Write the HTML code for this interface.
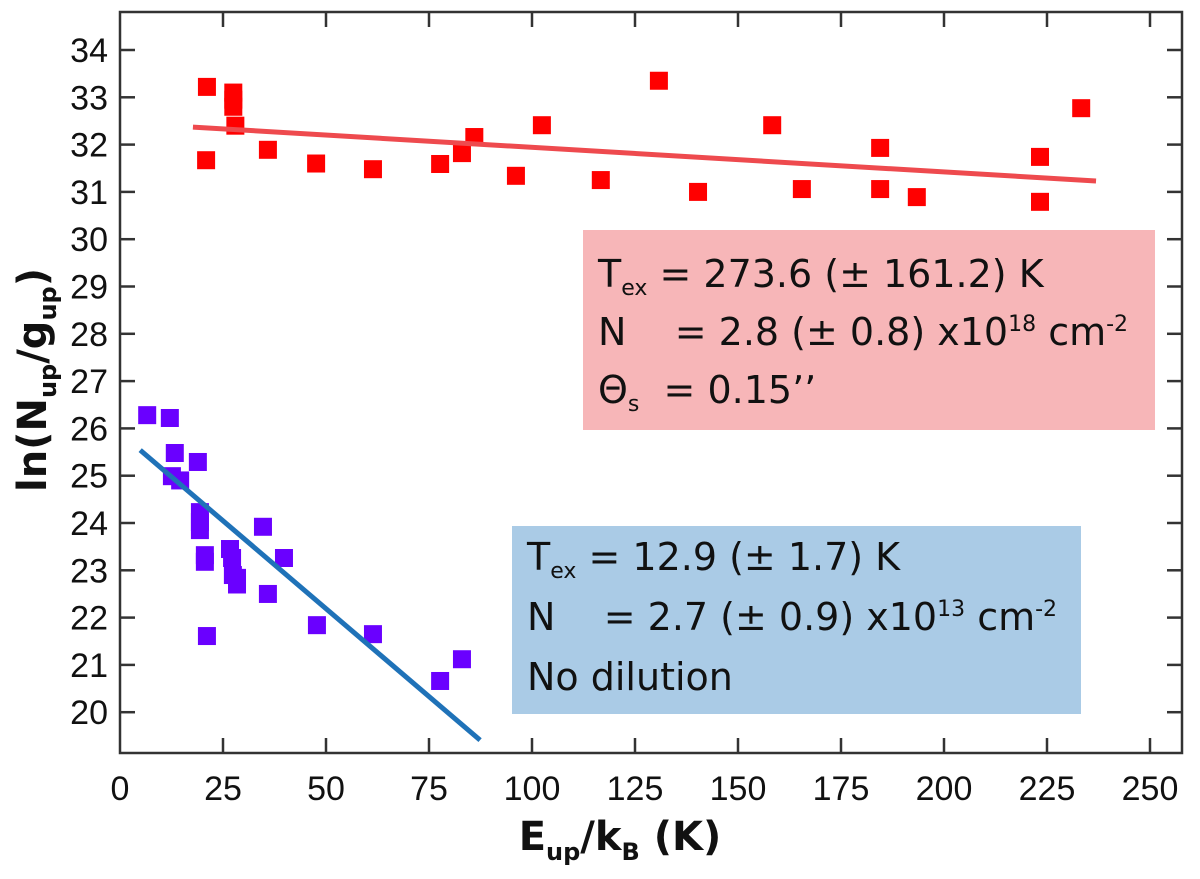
<!DOCTYPE html>
<html><head><meta charset="utf-8"><style>
body{margin:0;background:#fff;}
svg{display:block;font-family:"DejaVu Sans","Liberation Sans",sans-serif;}
</style></head><body>
<svg id="chart" width="1200" height="879" viewBox="0 0 1200 879" xmlns="http://www.w3.org/2000/svg">
<rect x="120" y="12" width="1062" height="741" fill="#fff"/>
<rect x="583" y="230" width="572" height="200" fill="#f7b6b8"/>
<rect x="512" y="526" width="569" height="188" fill="#aacbe6"/>
<g id="marks"></g>
<g id="axes"></g>
<g font-size="38" fill="#111">
<text x="598" y="287">T<tspan font-size="22" dy="8">ex</tspan><tspan dy="-8"> = 273.6 (± 161.2) K</tspan></text>
<text x="598" y="345">N&#160;&#160;&#160; = 2.8 (± 0.8) x10<tspan font-size="22" dy="-14">18</tspan><tspan dy="14"> cm</tspan><tspan font-size="22" dy="-14">-2</tspan></text>
<text x="598" y="403">Θ<tspan font-size="22" dy="8">s</tspan><tspan dy="-8">&#160; = 0.15’’</tspan></text>
</g>
<g font-size="38" fill="#111">
<text x="527" y="570">T<tspan font-size="22" dy="8">ex</tspan><tspan dy="-8"> = 12.9 (± 1.7) K</tspan></text>
<text x="527" y="630">N&#160;&#160;&#160; = 2.7 (± 0.9) x10<tspan font-size="22" dy="-14">13</tspan><tspan dy="14"> cm</tspan><tspan font-size="22" dy="-14">-2</tspan></text>
<text x="527" y="690">No dilution</text>
</g>
<text x="620" y="850" text-anchor="middle" font-size="40" font-weight="bold" fill="#111">E<tspan font-size="24" dy="10">up</tspan><tspan dy="-10">/k</tspan><tspan font-size="24" dy="10">B</tspan><tspan dy="-10"> (K)</tspan></text>
<text transform="translate(46,380) rotate(-90)" text-anchor="middle" font-size="40" font-weight="bold" fill="#111">ln(N<tspan font-size="24" dy="10">up</tspan><tspan dy="-10">/g</tspan><tspan font-size="24" dy="10">up</tspan><tspan dy="-10">)</tspan></text>
</svg>
<script>
const xTicks=[0,25,50,75,100,125,150,175,200,225,250];
const yTicks=[20,21,22,23,24,25,26,27,28,29,30,31,32,33,34];
const redX=[21.1,20.9,27.5,27.5,27.5,28,35.9,47.6,61.4,77.7,83,86,96.1,102.4,116.7,130.8,140.3,158.3,165.5,184.5,184.5,193.4,223.3,223.3,233.3];
const redY=[33.22,31.67,32.95,33.1,32.8,32.4,31.89,31.6,31.48,31.59,31.82,32.16,31.34,32.41,31.25,33.35,31.0,32.41,31.06,31.93,31.06,30.89,31.74,30.79,32.77];
const purpleX=[6.6,12.1,13.3,12.6,14.6,18.9,19.4,19.4,19.4,20.6,20.6,21.1,26.7,27.2,27.4,28.4,28.4,34.7,35.9,39.8,47.8,61.4,77.7,83];
const purpleY=[26.28,26.22,25.48,24.99,24.9,25.29,24.23,24.02,23.85,23.32,23.18,21.61,23.45,23.26,22.9,22.84,22.7,23.92,22.5,23.26,21.84,21.65,20.66,21.12];
const redFitX=[17.7,236.9], redFitY=[32.37,31.23];
const blueFitX=[4.9,87.4], blueFitY=[25.54,19.41];
const X=v=>120+4.12*v, Y=v=>50+(34-v)*47.3;
const NS='http://www.w3.org/2000/svg';
const marks=document.getElementById('marks'), axes=document.getElementById('axes');
function mk(tag,attrs,parent){const e=document.createElementNS(NS,tag);for(const k in attrs)e.setAttribute(k,attrs[k]);parent.appendChild(e);return e;}
redX.forEach((x,i)=>{const r=mk('rect',{x:X(x)-9,y:Y(redY[i])-9,width:18,height:18,fill:'#ff0000'},marks);

});
purpleX.forEach((x,i)=>{const r=mk('rect',{x:X(x)-9,y:Y(purpleY[i])-9,width:18,height:18,fill:'#6a00ff'},marks);

});
const l1=mk('line',{x1:X(redFitX[0]),y1:Y(redFitY[0]),x2:X(redFitX[1]),y2:Y(redFitY[1]),stroke:'#ee4a4e','stroke-width':5},marks);


const l2=mk('line',{x1:X(blueFitX[0]),y1:Y(blueFitY[0]),x2:X(blueFitX[1]),y2:Y(blueFitY[1]),stroke:'#1f72b8','stroke-width':5},marks);


const frame=mk('rect',{x:120,y:12,width:1062,height:741,fill:'none',stroke:'#333','stroke-width':2.5},axes);


xTicks.forEach(t=>{
 if(t>0){mk('line',{x1:X(t),y1:753,x2:X(t),y2:738,stroke:'#333','stroke-width':2.5},axes);
 mk('line',{x1:X(t),y1:12,x2:X(t),y2:27,stroke:'#333','stroke-width':2.5},axes);}
 const tx=mk('text',{x:X(t),y:800,'text-anchor':'middle','font-size':34,'font-family':'Liberation Sans, sans-serif',fill:'#111'},axes);
 tx.textContent=t;
 
 
});
yTicks.forEach(t=>{
 mk('line',{x1:120,y1:Y(t),x2:135,y2:Y(t),stroke:'#333','stroke-width':2.5},axes);
 mk('line',{x1:1182,y1:Y(t),x2:1167,y2:Y(t),stroke:'#333','stroke-width':2.5},axes);
 const tx=mk('text',{x:108,y:Y(t)+12,'text-anchor':'end','font-size':34,'font-family':'Liberation Sans, sans-serif',fill:'#111'},axes);
 tx.textContent=t;
 
 
});
</script>
</body></html>
